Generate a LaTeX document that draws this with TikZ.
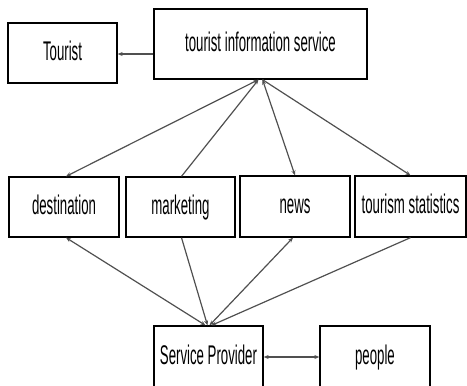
\documentclass[tikz,border=0pt]{standalone}
\usepackage{fontspec}
\setmainfont{Liberation Sans}[FakeStretch=0.49]
\usetikzlibrary{arrows.meta}
\definecolor{linkgray}{HTML}{505050}
\begin{document}
\begin{tikzpicture}[x=1pt,y=-1pt,
  box/.style={draw=black,line width=1.3pt,inner sep=0pt,
    font=\fontsize{27}{30}\selectfont,text height=19pt,text depth=5pt},
  link/.style={draw=linkgray,line width=1.2pt,
    arrows={-Stealth[length=5pt,width=4pt]}},
  both/.style={link,arrows={Stealth[length=5pt,width=4pt]-Stealth[length=5pt,width=4pt]}},
  back/.style={link,arrows={Stealth[length=5pt,width=4pt]-}}]
\useasboundingbox (0,0) rectangle (467,386);
\clip (0,0) rectangle (467,386);
% top row
\node[box,minimum width=109pt,minimum height=60pt] (tourist) at (62.5,53) {Tourist};
\node[box,minimum width=213pt,minimum height=70pt] (tis) at (260.5,44) {tourist information service};
% middle row
\node[box,minimum width=110pt,minimum height=60pt] (dest) at (64,207) {destination};
\node[box,minimum width=109pt,minimum height=60pt] (mkt) at (180.5,207) {marketing};
\node[box,minimum width=110pt,minimum height=61pt] (news) at (295,206.5) {news};
\node[box,minimum width=111pt,minimum height=61pt] (stats) at (410.5,206.5) {tourism statistics};
% bottom row
\node[box,minimum width=109pt,minimum height=62pt] (sp) at (208.5,357) {Service Provider};
\node[box,minimum width=110pt,minimum height=62pt] (people) at (375,357) {people};
% connectors
\draw[link] (tourist.east |- 0,54) coordinate (tin) (tis.west |- tin) -- (tin);
\draw[both] ([xshift=-2pt]tis.south) -- ([xshift=2pt]dest.north);
\draw[back] ([xshift=-2pt]tis.south) -- ([xshift=1pt]mkt.north);
\draw[both] ([xshift=2pt]tis.south) -- (news.north);
\draw[link] ([xshift=2pt]tis.south) -- (stats.north);
\draw[both] ([xshift=2pt]dest.south) -- ([xshift=-3pt]sp.north);
\draw[link] ([xshift=1pt]mkt.south) -- ([xshift=-1pt]sp.north);
\draw[both] ([xshift=-2pt]news.south) -- ([xshift=1pt]sp.north);
\draw[link] (stats.south) -- ([xshift=3pt]sp.north);
\draw[both] (sp.east) -- (people.west);
\end{tikzpicture}
\end{document}
